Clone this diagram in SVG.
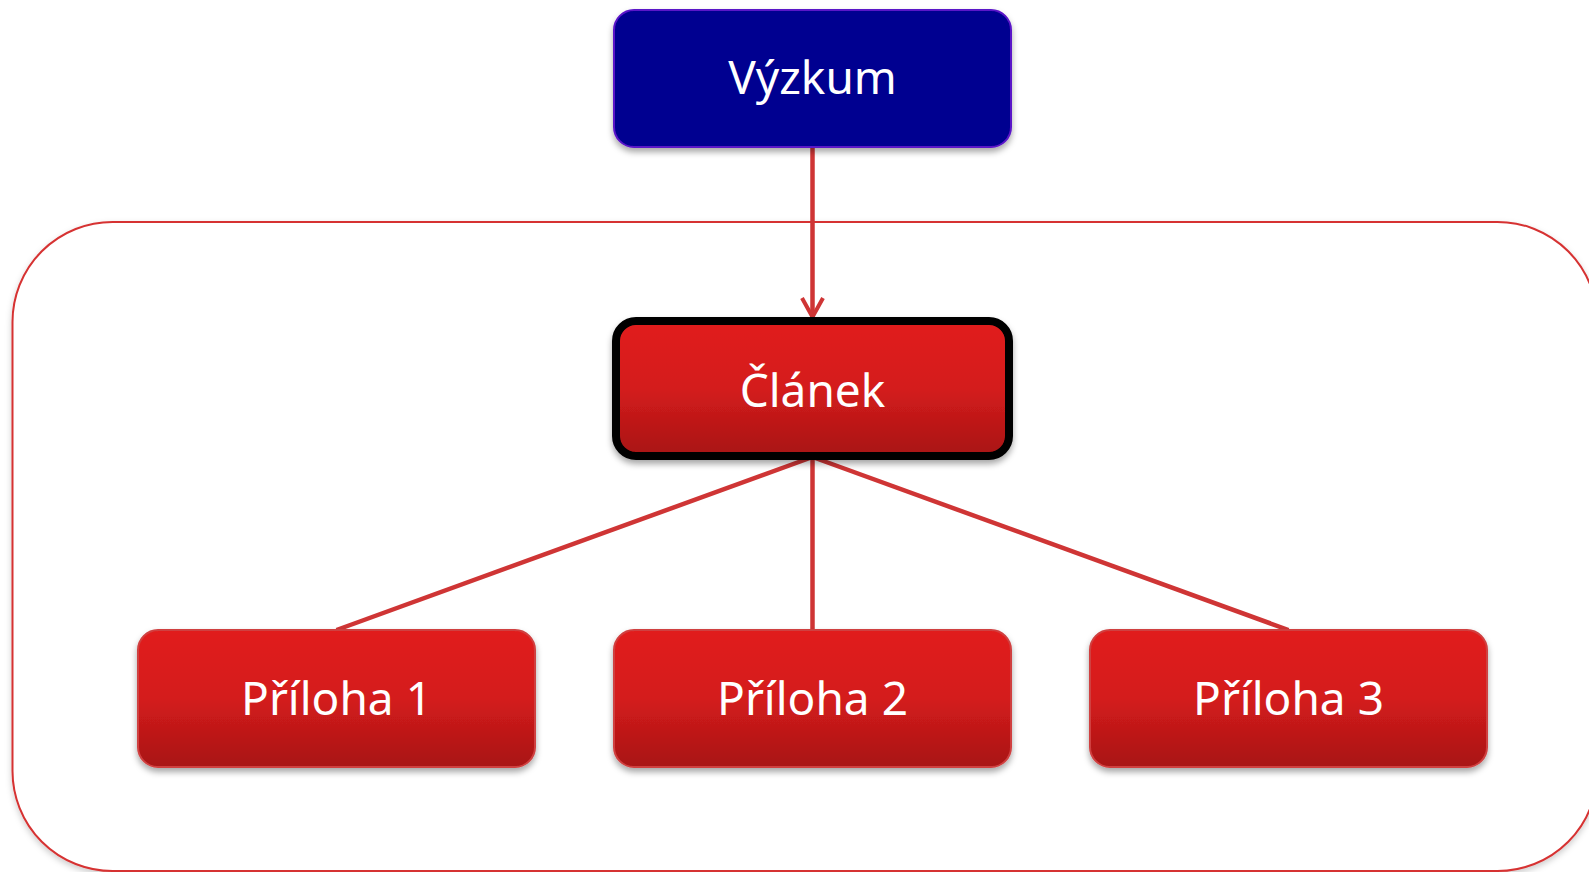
<svg xmlns="http://www.w3.org/2000/svg" width="1589" height="872" viewBox="0 0 1589 872">
<defs>
<linearGradient id="red" x1="0" y1="0" x2="0" y2="1">
<stop offset="0" stop-color="#e11f1f"/>
<stop offset="0.5" stop-color="#d41c1c"/>
<stop offset="1" stop-color="#a81414"/>
</linearGradient>
<filter id="sh" x="-10%" y="-10%" width="120%" height="130%">
<feDropShadow dx="0" dy="4" stdDeviation="3" flood-color="#000" flood-opacity="0.35"/>
</filter>
<filter id="sh2" x="-5%" y="-5%" width="110%" height="110%">
<feDropShadow dx="0" dy="3" stdDeviation="3" flood-color="#000" flood-opacity="0.2"/>
</filter>
<marker id="arr" markerWidth="26" markerHeight="26" refX="22" refY="13" orient="auto" markerUnits="userSpaceOnUse" viewBox="0 0 26 26">
<path d="M3,2.5 L22,13 L3,23.5" fill="none" stroke="#cf3535" stroke-width="4" stroke-linejoin="miter"/>
</marker>
<style>
.lbl{font-family:"Noto Sans","Open Sans","DejaVu Sans",sans-serif;font-size:46px;fill:#fff;text-anchor:middle}
.conn{stroke:#cf3535;stroke-width:4.5;fill:none}
.child{fill:url(#red);stroke:#d04040;stroke-width:2}
</style>
</defs>
<g id="container">
<rect x="12.5" y="222" width="1585" height="649" rx="100" ry="100" fill="#fff" stroke="#d63232" stroke-width="2" filter="url(#sh2)"/>
</g>
<g id="connectors">
<line class="conn" x1="812.5" y1="147" x2="812.5" y2="317" marker-end="url(#arr)"/>
<line class="conn" x1="812.5" y1="457" x2="336.5" y2="630"/>
<line class="conn" x1="812.5" y1="457" x2="812.5" y2="630"/>
<line class="conn" x1="812.5" y1="457" x2="1288.5" y2="630"/>
</g>
<g id="vyzkum">
<rect x="614" y="10" width="397" height="137" rx="20" ry="20" fill="#000090" stroke="#5a14c8" stroke-width="2" filter="url(#sh)"/>
<text class="lbl" x="812.5" y="94">Výzkum</text>
</g>
<g id="clanek">
<rect x="616" y="321" width="393" height="135" rx="20" ry="20" fill="url(#red)" stroke="#000" stroke-width="8" filter="url(#sh)"/>
<text class="lbl" x="812.5" y="407">Článek</text>
</g>
<g id="priloha1">
<rect class="child" x="138" y="630" width="397" height="137" rx="20" ry="20" filter="url(#sh)"/>
<text class="lbl" x="336.5" y="715">Příloha 1</text>
</g>
<g id="priloha2">
<rect class="child" x="614" y="630" width="397" height="137" rx="20" ry="20" filter="url(#sh)"/>
<text class="lbl" x="812.5" y="715">Příloha 2</text>
</g>
<g id="priloha3">
<rect class="child" x="1090" y="630" width="397" height="137" rx="20" ry="20" filter="url(#sh)"/>
<text class="lbl" x="1288.5" y="715">Příloha 3</text>
</g>
</svg>
